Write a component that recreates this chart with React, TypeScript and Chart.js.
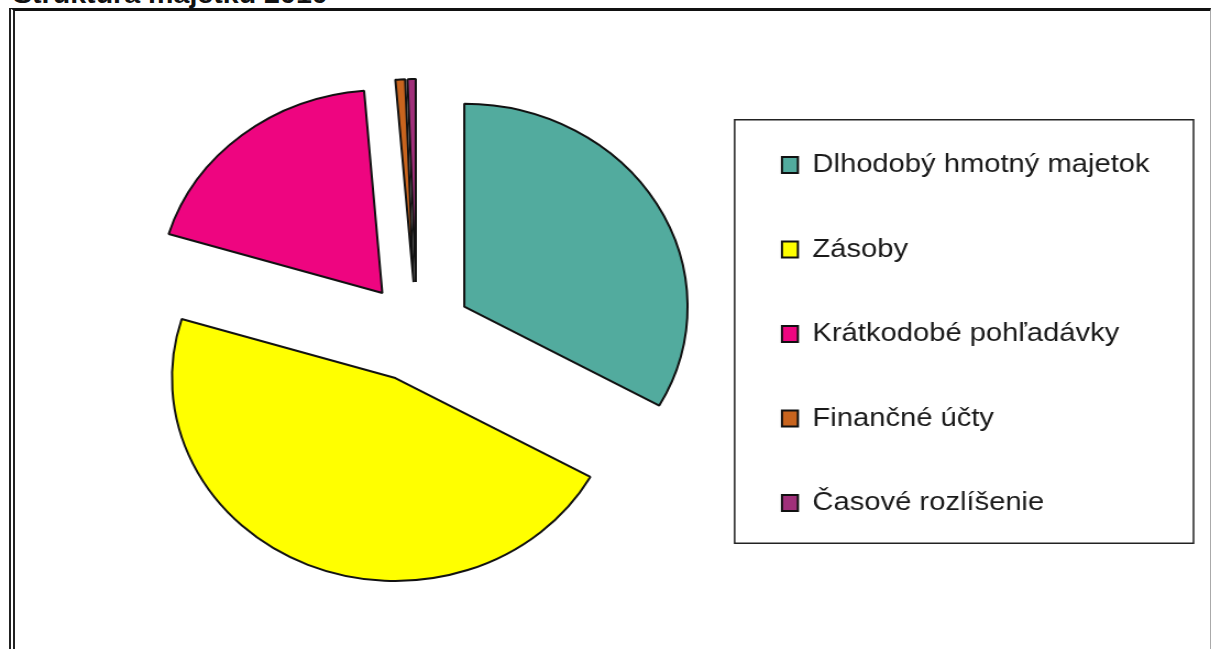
import React, { useEffect, useRef } from 'react';
import { Chart, registerables, ArcElement, PieController } from 'chart.js';

Chart.register(...registerables);

// ---- data ----
const titleText = 'Štruktúra majetku 2010';
const categories = [
  'Dlhodobý hmotný majetok',
  'Zásoby',
  'Krátkodobé pohľadávky',
  'Finančné účty',
  'Časové rozlíšenie',
];
const values = [33.1, 46.6, 19.0, 0.7, 0.6];
const sliceColors = ['#52AB9E', '#FFFF00', '#EE0580', '#C8641E', '#A0307A'];

const EXPLODE = 50;
const FONT = 'Arial, "Liberation Sans", sans-serif';

// Arc that is pushed outward along its mid-angle without growing its radius
class ExplodedArc extends ArcElement {
  static id = 'explodedArc';
  draw(ctx: CanvasRenderingContext2D) {
    const a = this as any;
    const mid = (a.startAngle + a.endAngle) / 2;
    ctx.save();
    ctx.translate(Math.cos(mid) * EXPLODE, Math.sin(mid) * EXPLODE);
    super.draw(ctx);
    ctx.restore();
  }
}

class ExplodedPieController extends PieController {
  static id = 'explodedPie';
  static defaults = { dataElementType: 'explodedArc' };
}

Chart.register(ExplodedArc as any, ExplodedPieController as any);

const legendFrame = {
  id: 'legendFrame',
  afterDraw(chart: any) {
    const lg = chart.legend;
    if (!lg || !lg.legendHitBoxes || !lg.legendHitBoxes.length) return;
    const hb = lg.legendHitBoxes;
    const l = Math.min(...hb.map((h: any) => h.left)) - 43;
    const r = Math.max(...hb.map((h: any) => h.left + h.width)) + 40;
    const t = hb[0].top - 32;
    const last = hb[hb.length - 1];
    const b = last.top + last.height + 27;
    const ctx = chart.ctx;
    ctx.save();
    ctx.strokeStyle = '#222';
    ctx.lineWidth = 1.5;
    ctx.strokeRect(l, t, r - l, b - t);
    ctx.restore();
  },
};

export default function App() {
  const ref = useRef<HTMLCanvasElement | null>(null);

  useEffect(() => {
    if (!ref.current) return;
    const chart = new Chart(ref.current, {
      type: 'explodedPie' as any,
      data: {
        labels: categories,
        datasets: [
          {
            data: values,
            backgroundColor: sliceColors,
            borderColor: '#111',
            borderWidth: 2,
            radius: 203,
          } as any,
        ],
      },
      options: {
        responsive: false,
        animation: false,
        layout: { padding: { top: 18, bottom: 3, left: 105, right: 47 } },
        plugins: {
          legend: {
            position: 'right',
            title: { display: true, text: '', font: { size: 4, lineHeight: 1 }, padding: 0 },
            labels: {
              boxWidth: 14.5,
              boxHeight: 16,
              padding: 58,
              color: '#1a1a1a',
              font: { family: FONT, size: 26.5 },
            },
          },
          tooltip: { enabled: false },
          title: { display: false },
        },
      } as any,
      plugins: [legendFrame],
    });
    return () => chart.destroy();
  }, []);

  return (
    <div
      style={{
        position: 'fixed',
        left: 0,
        top: 0,
        width: 1212,
        height: 649,
        overflow: 'hidden',
        background: '#fff',
      }}
    >
      <div
        style={{
          position: 'absolute',
          left: 13,
          top: -19,
          font: `bold 26px ${FONT}`,
          lineHeight: '26px',
          color: '#111',
          whiteSpace: 'nowrap',
          transform: 'scaleX(1.1)',
          transformOrigin: '0 0',
        }}
      >
        {titleText}
      </div>
      <div
        style={{
          position: 'absolute',
          left: 9,
          top: 8,
          width: 1202,
          height: 700,
          boxSizing: 'border-box',
          borderTop: '3px solid #111',
          borderLeft: '6px double #222',
          borderRight: '1px solid #aaa',
        }}
      />
      <div
        style={{
          position: 'absolute',
          left: 0,
          top: 0,
          transform: 'scaleX(1.1)',
          transformOrigin: '0 0',
        }}
      >
        <canvas ref={ref} width={1102} height={649} style={{ display: 'block' }} />
      </div>
    </div>
  );
}
